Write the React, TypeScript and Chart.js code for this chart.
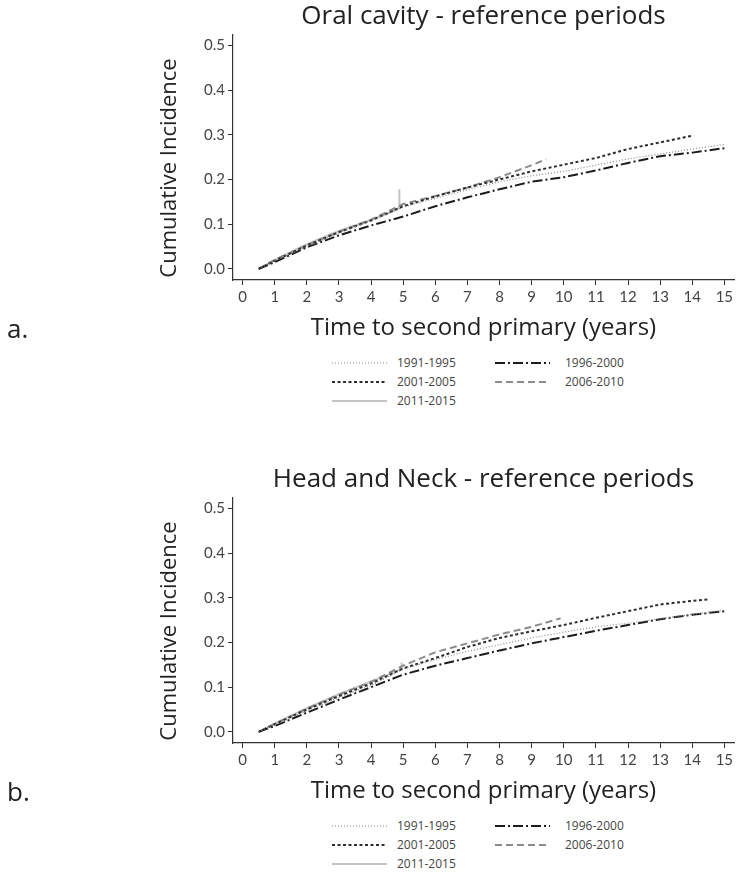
import React, { useEffect, useRef } from "react";
import { Chart, registerables } from "chart.js";
Chart.register(...registerables);

const periods = ["1991-1995", "1996-2000", "2001-2005", "2006-2010", "2011-2015"];
const xTickValues = [0, 1, 2, 3, 4, 5, 6, 7, 8, 9, 10, 11, 12, 13, 14, 15];
const yTickValues = [0, 0.1, 0.2, 0.3, 0.4, 0.5];

// ---- Panel a: Oral cavity ----
const oralYears1991 = [0.5, 1, 2, 3, 4, 5, 6, 7, 8, 9, 10, 11, 12, 13, 14, 15];
const oral1991 = [0, 0.018, 0.05, 0.08, 0.108, 0.138, 0.158, 0.177, 0.195, 0.208, 0.218, 0.232, 0.246, 0.257, 0.268, 0.278];
const oralYears1996 = [0.5, 1, 2, 3, 4, 5, 6, 7, 8, 9, 10, 11, 12, 13, 14, 15];
const oral1996 = [0, 0.015, 0.048, 0.075, 0.097, 0.117, 0.14, 0.16, 0.178, 0.195, 0.205, 0.22, 0.237, 0.252, 0.26, 0.27];
const oralYears2001 = [0.5, 1, 2, 3, 4, 5, 6, 7, 8, 9, 10, 11, 12, 13, 14];
const oral2001 = [0, 0.018, 0.052, 0.082, 0.108, 0.14, 0.162, 0.182, 0.2, 0.218, 0.233, 0.248, 0.268, 0.283, 0.298];
const oralYears2006 = [0.5, 1, 2, 3, 4, 5, 6, 7, 8, 9, 9.45];
const oral2006 = [0, 0.02, 0.053, 0.083, 0.11, 0.145, 0.163, 0.182, 0.205, 0.232, 0.245];
const oralYears2011 = [0.5, 1, 2, 3, 4, 4.5, 4.85, 4.88, 4.88];
const oral2011 = [0, 0.02, 0.055, 0.085, 0.11, 0.123, 0.135, 0.14, 0.178];

// ---- Panel b: Head and Neck ----
const hnYears1991 = [0.5, 1, 2, 3, 4, 5, 6, 7, 8, 9, 10, 11, 12, 13, 14, 15];
const hn1991 = [0, 0.016, 0.047, 0.077, 0.104, 0.14, 0.162, 0.18, 0.195, 0.21, 0.223, 0.235, 0.243, 0.253, 0.263, 0.272];
const hnYears1996 = [0.5, 1, 2, 3, 4, 5, 6, 7, 8, 9, 10, 11, 12, 13, 14, 15];
const hn1996 = [0, 0.013, 0.043, 0.072, 0.1, 0.128, 0.148, 0.165, 0.182, 0.198, 0.212, 0.226, 0.239, 0.252, 0.262, 0.27];
const hnYears2001 = [0.5, 1, 2, 3, 4, 5, 6, 7, 8, 9, 10, 11, 12, 13, 14, 14.5];
const hn2001 = [0, 0.017, 0.05, 0.08, 0.108, 0.142, 0.165, 0.19, 0.21, 0.225, 0.239, 0.255, 0.27, 0.285, 0.293, 0.296];
const hnYears2006 = [0.5, 1, 2, 3, 4, 5, 6, 7, 8, 9, 9.9];
const hn2006 = [0, 0.018, 0.052, 0.083, 0.112, 0.148, 0.178, 0.198, 0.218, 0.235, 0.254];
const hnYears2011 = [0.5, 1, 2, 3, 4, 4.5, 4.93, 4.95, 4.95];
const hn2011 = [0, 0.019, 0.053, 0.084, 0.113, 0.127, 0.14, 0.143, 0.155];

const styles = [
  { color: "#8a8a8a", width: 1.2, dash: [1, 2] },
  { color: "#1c1c1c", width: 2, dash: [10, 3, 2, 3] },
  { color: "#2e2e2e", width: 2, dash: [3, 2.5] },
  { color: "#8c8c8c", width: 2, dash: [7, 4] },
  { color: "#c4c4c4", width: 2, dash: [] as number[] },
];

const zip = (xs: number[], ys: number[]) => xs.map((x, i) => ({ x, y: ys[i] }));

const panels = [
  {
    title: "Oral cavity - reference periods",
    letter: "a.",
    series: [zip(oralYears1991, oral1991), zip(oralYears1996, oral1996), zip(oralYears2001, oral2001), zip(oralYears2006, oral2006), zip(oralYears2011, oral2011)],
  },
  {
    title: "Head and Neck - reference periods",
    letter: "b.",
    series: [zip(hnYears1991, hn1991), zip(hnYears1996, hn1996), zip(hnYears2001, hn2001), zip(hnYears2006, hn2006), zip(hnYears2011, hn2011)],
  },
];

const TITLE_FONT = "'Open Sans', Lato, sans-serif";
const TICK_FONT = "Lato, 'Open Sans', sans-serif";

function Panel({ idx, top }: { idx: number; top: number }) {
  const ref = useRef<HTMLCanvasElement>(null);
  const p = panels[idx];
  useEffect(() => {
    if (!ref.current) return;
    const chart = new Chart(ref.current, {
      type: "line",
      data: {
        datasets: p.series.map((d, i) => ({
          label: periods[i],
          data: d,
          borderColor: styles[i].color,
          borderWidth: styles[i].width,
          borderDash: styles[i].dash,
          pointRadius: 0,
          tension: 0,
          fill: false,
        })),
      },
      options: {
        animation: false,
        responsive: false,
        events: [],
        layout: { padding: { left: 150, right: 3, top: 0, bottom: 0 } },
        plugins: {
          legend: { display: false },
          tooltip: { enabled: false },
          title: {
            display: true,
            fullSize: false,
            text: p.title,
            color: "#222",
            font: { family: TITLE_FONT, size: 26, weight: "normal" },
            padding: { top: 1, bottom: 2 },
          },
        },
        scales: {
          x: {
            type: "linear",
            min: -0.3,
            max: 15.3,
            afterBuildTicks: (s: any) => {
              s.ticks = xTickValues.map((v) => ({ value: v }));
            },
            afterFit: (s: any) => {
              s.height = 63;
            },
            ticks: {
              color: "#444",
              font: { family: TICK_FONT, size: 15 },
              padding: 3,
              maxRotation: 0,
              autoSkip: false,
              callback: (v: any) => String(v),
            },
            grid: { drawOnChartArea: false, drawTicks: true, tickLength: 5, tickColor: "#333", tickWidth: 1 },
            border: { display: true, color: "#333", width: 1.2 },
            title: {
              display: true,
              text: "Time to second primary (years)",
              color: "#222",
              font: { family: TITLE_FONT, size: 24 },
              padding: { top: 4, bottom: 0 },
            },
          },
          y: {
            type: "linear",
            min: -0.025,
            max: 0.525,
            afterBuildTicks: (s: any) => {
              s.ticks = yTickValues.map((v) => ({ value: v }));
            },
            afterFit: (s: any) => {
              s.width = 83;
            },
            ticks: {
              color: "#444",
              font: { family: TICK_FONT, size: 15 },
              padding: 3,
              callback: (v: any) => Number(v).toFixed(1),
            },
            grid: { drawOnChartArea: false, drawTicks: true, tickLength: 5, tickColor: "#333", tickWidth: 1 },
            border: { display: true, color: "#333", width: 1.2 },
            title: { display: false },
          },
        },
      } as any,
    });
    return () => chart.destroy();
  }, [idx]);

  const legendRows = [
    [0, 1],
    [2, 3],
    [4],
  ];
  const colX = [
    { line: 332, text: 397 },
    { line: 495, text: 565 },
  ];

  return (
    <>
      <canvas ref={ref} width={737} height={343} style={{ position: "absolute", left: 0, top, width: 737, height: 343 }} />
      <div
        style={{
          position: "absolute",
          left: 167,
          top: top + 168,
          width: 0,
          height: 0,
        }}
      >
        <div
          style={{
            position: "absolute",
            left: -150,
            top: -15,
            width: 300,
            height: 30,
            lineHeight: "30px",
            textAlign: "center",
            transform: "rotate(-90deg)",
            fontFamily: TITLE_FONT,
            fontSize: 22,
            color: "#222",
            whiteSpace: "nowrap",
          }}
        >
          Cumulative Incidence
        </div>
      </div>
      <div
        style={{
          position: "absolute",
          left: 7,
          top: top + 313,
          fontFamily: TITLE_FONT,
          fontSize: 26,
          color: "#222",
          lineHeight: "30px",
        }}
      >
        {p.letter}
      </div>
      {legendRows.map((row, r) =>
        row.map((si, c) => {
          const y = top + 363 + r * 19;
          const st = styles[si];
          return (
            <React.Fragment key={`${r}-${c}`}>
              <svg
                width={56}
                height={10}
                style={{ position: "absolute", left: colX[c].line, top: y - 5 }}
              >
                <line
                  x1={0}
                  y1={5}
                  x2={55}
                  y2={5}
                  stroke={st.color}
                  strokeWidth={st.width}
                  strokeDasharray={st.dash.length ? st.dash.join(" ") : undefined}
                />
              </svg>
              <div
                style={{
                  position: "absolute",
                  left: colX[c].text,
                  top: y - 8,
                  fontFamily: "'Open Sans', Lato, sans-serif",
                  fontSize: 12,
                  lineHeight: "16px",
                  color: "#444",
                  whiteSpace: "nowrap",
                }}
              >
                {periods[si]}
              </div>
            </React.Fragment>
          );
        })
      )}
    </>
  );
}

export default function App() {
  return (
    <div style={{ position: "absolute", left: 0, top: 0, width: 737, height: 881, background: "#fff", overflow: "hidden" }}>
      <Panel idx={0} top={0} />
      <Panel idx={1} top={463} />
    </div>
  );
}
